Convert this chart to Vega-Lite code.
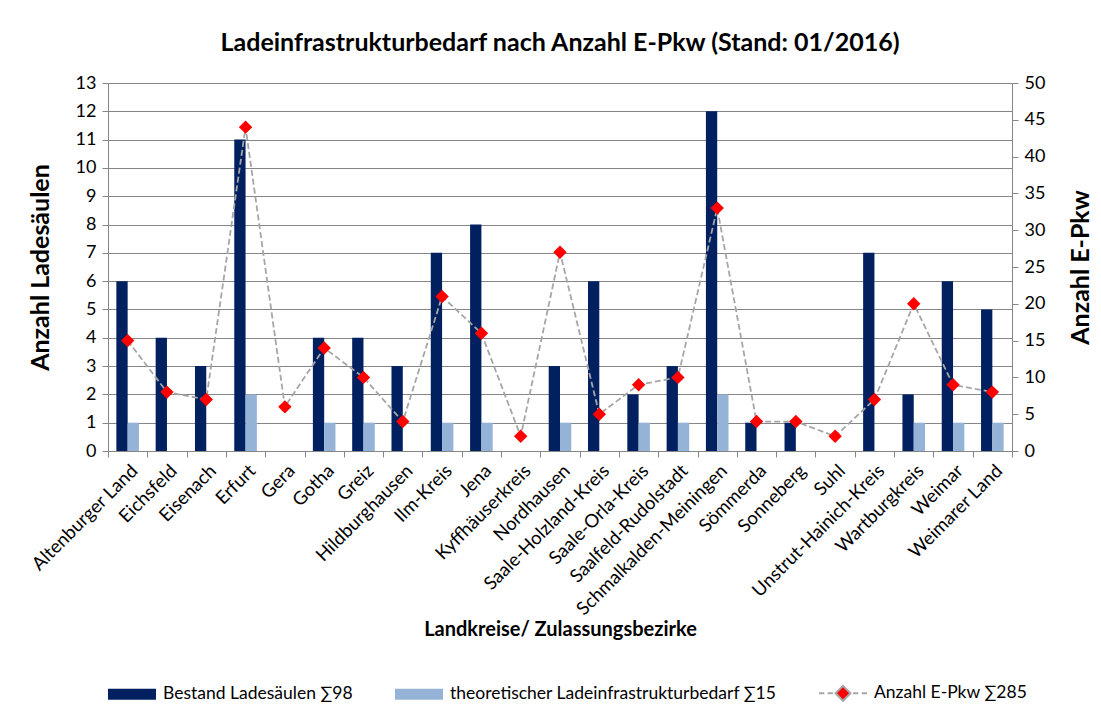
{
  "$schema": "https://vega.github.io/schema/vega-lite/v6.json",
  "width": 904,
  "height": 368,
  "autosize": "none",
  "padding": {"left": 108, "top": 83, "right": 89, "bottom": 262},
  "background": "white",
  "config": {
    "font": "Lato",
    "view": {"stroke": null},
    "axis": {"labelFont": "Lato", "titleFont": "Lato", "labelColor": "#000000", "titleColor": "#000000", "domainColor": "#868686", "tickColor": "#868686", "gridColor": "#868686"}
  },
  "title": {
    "text": "Ladeinfrastrukturbedarf nach Anzahl E-Pkw (Stand: 01/2016)",
    "font": "Lato", "fontSize": 25, "fontWeight": "bold", "color": "#000000",
    "anchor": "middle", "offset": 18
  },
  "data": {
    "values": [
      {"kreis": "Altenburger Land", "serie": "Bestand Ladesäulen ∑98", "wert": 6},
      {"kreis": "Eichsfeld", "serie": "Bestand Ladesäulen ∑98", "wert": 4},
      {"kreis": "Eisenach", "serie": "Bestand Ladesäulen ∑98", "wert": 3},
      {"kreis": "Erfurt", "serie": "Bestand Ladesäulen ∑98", "wert": 11},
      {"kreis": "Gera", "serie": "Bestand Ladesäulen ∑98", "wert": 0},
      {"kreis": "Gotha", "serie": "Bestand Ladesäulen ∑98", "wert": 4},
      {"kreis": "Greiz", "serie": "Bestand Ladesäulen ∑98", "wert": 4},
      {"kreis": "Hildburghausen", "serie": "Bestand Ladesäulen ∑98", "wert": 3},
      {"kreis": "Ilm-Kreis", "serie": "Bestand Ladesäulen ∑98", "wert": 7},
      {"kreis": "Jena", "serie": "Bestand Ladesäulen ∑98", "wert": 8},
      {"kreis": "Kyffhäuserkreis", "serie": "Bestand Ladesäulen ∑98", "wert": 0},
      {"kreis": "Nordhausen", "serie": "Bestand Ladesäulen ∑98", "wert": 3},
      {"kreis": "Saale-Holzland-Kreis", "serie": "Bestand Ladesäulen ∑98", "wert": 6},
      {"kreis": "Saale-Orla-Kreis", "serie": "Bestand Ladesäulen ∑98", "wert": 2},
      {"kreis": "Saalfeld-Rudolstadt", "serie": "Bestand Ladesäulen ∑98", "wert": 3},
      {"kreis": "Schmalkalden-Meiningen", "serie": "Bestand Ladesäulen ∑98", "wert": 12},
      {"kreis": "Sömmerda", "serie": "Bestand Ladesäulen ∑98", "wert": 1},
      {"kreis": "Sonneberg", "serie": "Bestand Ladesäulen ∑98", "wert": 1},
      {"kreis": "Suhl", "serie": "Bestand Ladesäulen ∑98", "wert": 0},
      {"kreis": "Unstrut-Hainich-Kreis", "serie": "Bestand Ladesäulen ∑98", "wert": 7},
      {"kreis": "Wartburgkreis", "serie": "Bestand Ladesäulen ∑98", "wert": 2},
      {"kreis": "Weimar", "serie": "Bestand Ladesäulen ∑98", "wert": 6},
      {"kreis": "Weimarer Land", "serie": "Bestand Ladesäulen ∑98", "wert": 5},
      {"kreis": "Altenburger Land", "serie": "theoretischer Ladeinfrastrukturbedarf ∑15", "wert": 1},
      {"kreis": "Eichsfeld", "serie": "theoretischer Ladeinfrastrukturbedarf ∑15", "wert": 0},
      {"kreis": "Eisenach", "serie": "theoretischer Ladeinfrastrukturbedarf ∑15", "wert": 0},
      {"kreis": "Erfurt", "serie": "theoretischer Ladeinfrastrukturbedarf ∑15", "wert": 2},
      {"kreis": "Gera", "serie": "theoretischer Ladeinfrastrukturbedarf ∑15", "wert": 0},
      {"kreis": "Gotha", "serie": "theoretischer Ladeinfrastrukturbedarf ∑15", "wert": 1},
      {"kreis": "Greiz", "serie": "theoretischer Ladeinfrastrukturbedarf ∑15", "wert": 1},
      {"kreis": "Hildburghausen", "serie": "theoretischer Ladeinfrastrukturbedarf ∑15", "wert": 0},
      {"kreis": "Ilm-Kreis", "serie": "theoretischer Ladeinfrastrukturbedarf ∑15", "wert": 1},
      {"kreis": "Jena", "serie": "theoretischer Ladeinfrastrukturbedarf ∑15", "wert": 1},
      {"kreis": "Kyffhäuserkreis", "serie": "theoretischer Ladeinfrastrukturbedarf ∑15", "wert": 0},
      {"kreis": "Nordhausen", "serie": "theoretischer Ladeinfrastrukturbedarf ∑15", "wert": 1},
      {"kreis": "Saale-Holzland-Kreis", "serie": "theoretischer Ladeinfrastrukturbedarf ∑15", "wert": 0},
      {"kreis": "Saale-Orla-Kreis", "serie": "theoretischer Ladeinfrastrukturbedarf ∑15", "wert": 1},
      {"kreis": "Saalfeld-Rudolstadt", "serie": "theoretischer Ladeinfrastrukturbedarf ∑15", "wert": 1},
      {"kreis": "Schmalkalden-Meiningen", "serie": "theoretischer Ladeinfrastrukturbedarf ∑15", "wert": 2},
      {"kreis": "Sömmerda", "serie": "theoretischer Ladeinfrastrukturbedarf ∑15", "wert": 0},
      {"kreis": "Sonneberg", "serie": "theoretischer Ladeinfrastrukturbedarf ∑15", "wert": 0},
      {"kreis": "Suhl", "serie": "theoretischer Ladeinfrastrukturbedarf ∑15", "wert": 0},
      {"kreis": "Unstrut-Hainich-Kreis", "serie": "theoretischer Ladeinfrastrukturbedarf ∑15", "wert": 0},
      {"kreis": "Wartburgkreis", "serie": "theoretischer Ladeinfrastrukturbedarf ∑15", "wert": 1},
      {"kreis": "Weimar", "serie": "theoretischer Ladeinfrastrukturbedarf ∑15", "wert": 1},
      {"kreis": "Weimarer Land", "serie": "theoretischer Ladeinfrastrukturbedarf ∑15", "wert": 1},
      {"kreis": "Altenburger Land", "serie": "Anzahl E-Pkw ∑285", "wert": 15},
      {"kreis": "Eichsfeld", "serie": "Anzahl E-Pkw ∑285", "wert": 8},
      {"kreis": "Eisenach", "serie": "Anzahl E-Pkw ∑285", "wert": 7},
      {"kreis": "Erfurt", "serie": "Anzahl E-Pkw ∑285", "wert": 44},
      {"kreis": "Gera", "serie": "Anzahl E-Pkw ∑285", "wert": 6},
      {"kreis": "Gotha", "serie": "Anzahl E-Pkw ∑285", "wert": 14},
      {"kreis": "Greiz", "serie": "Anzahl E-Pkw ∑285", "wert": 10},
      {"kreis": "Hildburghausen", "serie": "Anzahl E-Pkw ∑285", "wert": 4},
      {"kreis": "Ilm-Kreis", "serie": "Anzahl E-Pkw ∑285", "wert": 21},
      {"kreis": "Jena", "serie": "Anzahl E-Pkw ∑285", "wert": 16},
      {"kreis": "Kyffhäuserkreis", "serie": "Anzahl E-Pkw ∑285", "wert": 2},
      {"kreis": "Nordhausen", "serie": "Anzahl E-Pkw ∑285", "wert": 27},
      {"kreis": "Saale-Holzland-Kreis", "serie": "Anzahl E-Pkw ∑285", "wert": 5},
      {"kreis": "Saale-Orla-Kreis", "serie": "Anzahl E-Pkw ∑285", "wert": 9},
      {"kreis": "Saalfeld-Rudolstadt", "serie": "Anzahl E-Pkw ∑285", "wert": 10},
      {"kreis": "Schmalkalden-Meiningen", "serie": "Anzahl E-Pkw ∑285", "wert": 33},
      {"kreis": "Sömmerda", "serie": "Anzahl E-Pkw ∑285", "wert": 4},
      {"kreis": "Sonneberg", "serie": "Anzahl E-Pkw ∑285", "wert": 4},
      {"kreis": "Suhl", "serie": "Anzahl E-Pkw ∑285", "wert": 2},
      {"kreis": "Unstrut-Hainich-Kreis", "serie": "Anzahl E-Pkw ∑285", "wert": 7},
      {"kreis": "Wartburgkreis", "serie": "Anzahl E-Pkw ∑285", "wert": 20},
      {"kreis": "Weimar", "serie": "Anzahl E-Pkw ∑285", "wert": 9},
      {"kreis": "Weimarer Land", "serie": "Anzahl E-Pkw ∑285", "wert": 8}
    ]
  },
  "encoding": {
    "x": {
      "field": "kreis", "type": "nominal",
      "scale": {
        "domain": ["Altenburger Land", "Eichsfeld", "Eisenach", "Erfurt", "Gera", "Gotha", "Greiz", "Hildburghausen", "Ilm-Kreis", "Jena", "Kyffhäuserkreis", "Nordhausen", "Saale-Holzland-Kreis", "Saale-Orla-Kreis", "Saalfeld-Rudolstadt", "Schmalkalden-Meiningen", "Sömmerda", "Sonneberg", "Suhl", "Unstrut-Hainich-Kreis", "Wartburgkreis", "Weimar", "Weimarer Land"],
        "paddingInner": 0, "paddingOuter": 0
      },
      "axis": {
        "title": "Landkreise/ Zulassungsbezirke",
        "titleFontSize": 20, "titleFontWeight": "bold", "titlePadding": 1,
        "labelAngle": -45, "labelFontSize": 18.5, "labelPadding": 4, "labelLimit": 300,
        "tickBand": "extent", "tickSize": 6, "grid": false, "domainColor": "#868686"
      }
    }
  },
  "layer": [
    {
      "transform": [{"filter": "datum.serie !== 'Anzahl E-Pkw ∑285'"}],
      "mark": {"type": "bar"},
      "encoding": {
        "xOffset": {
          "field": "serie", "type": "nominal",
          "scale": {"domain": ["Bestand Ladesäulen ∑98", "theoretischer Ladeinfrastrukturbedarf ∑15"], "paddingInner": 0, "paddingOuter": 0.74}
        },
        "y": {
          "field": "wert", "type": "quantitative",
          "scale": {"domain": [0, 13], "nice": false},
          "axis": {
            "title": "Anzahl Ladesäulen", "titleFontSize": 25, "titleFontWeight": "bold", "titlePadding": 22,
            "values": [0, 1, 2, 3, 4, 5, 6, 7, 8, 9, 10, 11, 12, 13],
            "labelFontSize": 18, "labelPadding": 6, "tickSize": 6, "grid": true, "gridWidth": 1.2
          }
        },
        "color": {
          "field": "serie", "type": "nominal",
          "scale": {
            "domain": ["Bestand Ladesäulen ∑98", "theoretischer Ladeinfrastrukturbedarf ∑15", "Anzahl E-Pkw ∑285"],
            "range": ["#002060", "#95b3d7", "#ff0000"]
          },
          "legend": {
            "orient": "none", "legendX": -1, "legendY": 585, "direction": "horizontal",
            "title": null, "symbolSize": 2304, "symbolType": "M-1,-0.23H1V0.23H-1Z",
            "labelFont": "Lato", "labelFontSize": 17.5, "labelColor": "#000000", "labelLimit": 500,
            "columnPadding": 38, "labelOffset": 6,
            "encode": {
              "symbols": {
                "update": {
                  "shape": {"signal": "datum.value === 'Anzahl E-Pkw ∑285' ? 'M-1,0H-0.78M-0.64,0H-0.42M0.42,0H0.64M0.78,0H1M0,-0.31L0.31,0L0,0.31L-0.31,0Z' : 'M-1,-0.23H1V0.23H-1Z'"},
                  "stroke": {"signal": "datum.value === 'Anzahl E-Pkw ∑285' ? '#a6a6a6' : 'transparent'"},
                  "strokeWidth": {"value": 2}
                }
              }
            }
          }
        }
      }
    },
    {
      "transform": [{"filter": "datum.serie === 'Anzahl E-Pkw ∑285'"}],
      "encoding": {
        "y": {
          "field": "wert", "type": "quantitative",
          "scale": {"domain": [0, 50], "nice": false},
          "axis": {
            "orient": "right", "title": "Anzahl E-Pkw", "titleFontSize": 25, "titleFontWeight": "bold", "titlePadding": 24, "titleAngle": 270, "titleBaseline": "top",
            "values": [0, 5, 10, 15, 20, 25, 30, 35, 40, 45, 50],
            "labelFontSize": 18, "labelPadding": 6, "tickSize": 6, "grid": false
          }
        }
      },
      "layer": [
        {"mark": {"type": "line", "color": "#a6a6a6", "strokeDash": [6, 3], "strokeWidth": 1.8}},
        {"mark": {"type": "point", "shape": "diamond", "filled": true, "color": "#ff0000", "size": 180, "opacity": 1}}
      ]
    }
  ],
  "resolve": {"scale": {"y": "independent"}}
}
